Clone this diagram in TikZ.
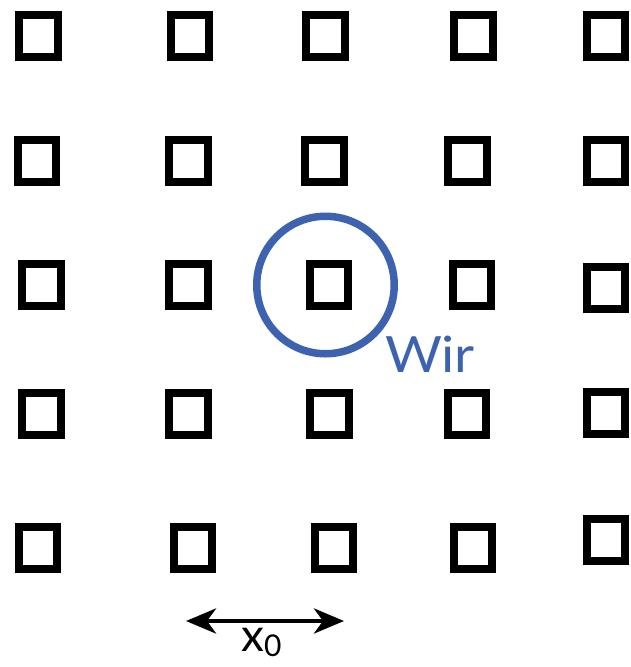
\documentclass[tikz,border=0pt]{standalone}
\usepackage{fontspec}
\usepackage{graphicx}
\setmainfont{Lato}
\usetikzlibrary{arrows.meta}
\definecolor{wirblue}{HTML}{3D63B0}
\tikzset{
  sq/.style={draw=black, line width=8pt, minimum width=38.5pt, minimum height=41.5pt, inner sep=0pt},
  ring/.style={draw=wirblue, line width=7.5pt, circle, minimum size=137.5pt, inner sep=0pt},
  dimarrow/.style={line width=4.5pt, {Stealth[length=30pt,width=25pt,inset=9pt]}-{Stealth[length=30pt,width=25pt,inset=9pt]}}
}
\begin{document}
\begin{tikzpicture}[x=1pt,y=-1pt]
\useasboundingbox (0,0) rectangle (631,667);
% row 1
\node[sq] (s11) at (38.5,36) {};
\node[sq] (s12) at (190,36) {};
\node[sq] (s13) at (325.5,36) {};
\node[sq] (s14) at (473.5,36) {};
\node[sq] (s15) at (606,36) {};
% row 2
\node[sq] (s21) at (37,161) {};
\node[sq] (s22) at (188.5,161) {};
\node[sq] (s23) at (324.5,161) {};
\node[sq] (s24) at (467.5,161) {};
\node[sq] (s25) at (606,161) {};
% row 3
\node[sq] (s31) at (41.5,285) {};
\node[sq] (s32) at (188.5,285) {};
\node[sq] (s33) at (329,285) {};
\node[sq] (s34) at (472,285) {};
\node[sq] (s35) at (606,288) {};
% row 4
\node[sq] (s41) at (41.5,414) {};
\node[sq] (s42) at (188.5,414) {};
\node[sq] (s43) at (329.5,414) {};
\node[sq] (s44) at (467,414) {};
\node[sq] (s45) at (606,413) {};
% row 5
\node[sq] (s51) at (38,548) {};
\node[sq] (s52) at (193,548) {};
\node[sq] (s53) at (334,548) {};
\node[sq] (s54) at (473,548) {};
\node[sq] (s55) at (606,540) {};
% circle and label
\node[ring] (wirc) at (325.5,285) {};
\node[anchor=base west, inner sep=0pt, text=wirblue] (wir) at (385,372) {\scalebox{1.1}[1]{\fontsize{50}{50}\selectfont W\kern-1pt ir}};
% dimension arrow
\coordinate (al) at (186,621);
\coordinate (ar) at (344,621);
\draw[dimarrow] (al) -- (ar);
\node[anchor=base west, inner sep=0pt] (x0) at (241,651) {\fontsize{46}{46}\selectfont x\lower5pt\hbox{\fontsize{30}{30}\selectfont 0}};
\end{tikzpicture}
\end{document}
